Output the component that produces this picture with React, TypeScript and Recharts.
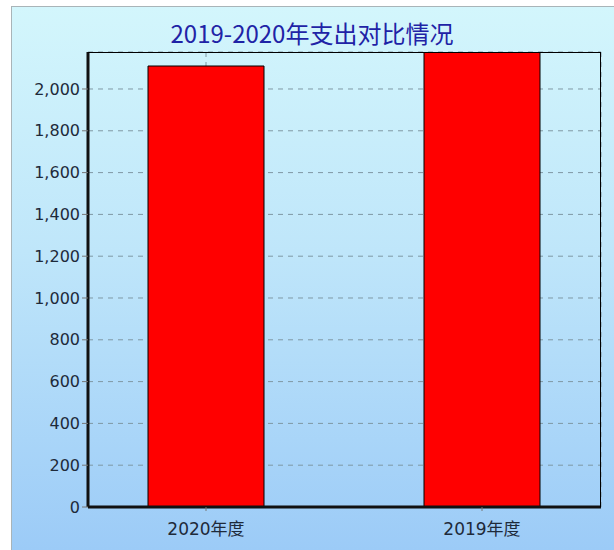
import { Bar, BarChart, CartesianGrid, XAxis, YAxis } from 'recharts';

// 支出（单位未标注）
const categories = ['2020年度', '2019年度'];
const spending = [2110, 2240];
const yTicks = [0, 200, 400, 600, 800, 1000, 1200, 1400, 1600, 1800, 2000];
const yMax = 2177;

const data = categories.map((name, i) => ({ name, value: spending[i] }));

const labelFont = '"DejaVu Sans", "Noto Sans CJK SC", sans-serif';

export default function App() {
  return (
    <div
      style={{
        position: 'absolute',
        left: 0,
        top: 0,
        width: 614,
        height: 550,
        background: '#ffffff',
        overflow: 'hidden',
      }}
    >
      <div
        style={{
          position: 'absolute',
          left: 11,
          top: 6,
          width: 603,
          height: 544,
          boxSizing: 'border-box',
          borderLeft: '1px solid #a9b4b8',
          borderTop: '1px solid #a9b4b8',
          background: 'linear-gradient(to bottom, #d3f6fc 0%, #bfe6fa 45%, #9ccbf7 100%)',
        }}
      >
        <div
          style={{
            position: 'absolute',
            left: 0,
            top: 11,
            width: 600,
            textAlign: 'center',
            fontFamily: '"Noto Sans CJK SC", sans-serif',
            fontSize: 24,
            lineHeight: '30px',
            color: '#1f23a6',
          }}
        >
          2019-2020年支出对比情况
        </div>
        <BarChart
          width={602}
          height={543}
          data={data}
          margin={{ top: 45, right: 13, bottom: 0, left: 0 }}
        >
          <CartesianGrid stroke='#7f98a4' strokeDasharray='5 5' />
          <XAxis
            dataKey='name'
            scale='point'
            padding={{ left: 118, right: 119 }}
            height={43}
            axisLine={{ stroke: '#111', strokeWidth: 3 }}
            tickLine={{ stroke: '#777' }}
            tickSize={4}
            tick={{ fill: '#1e2a3a', fontSize: 17, fontFamily: labelFont }}
            tickMargin={12}
          />
          <YAxis
            width={76}
            domain={[0, yMax]}
            ticks={yTicks}
            allowDataOverflow
            axisLine={{ stroke: '#111', strokeWidth: 3 }}
            tickLine={{ stroke: '#777' }}
            tickSize={6}
            tickMargin={2}
            tickFormatter={(v) => v.toLocaleString('en-US')}
            tick={{ fill: '#1e2a3a', fontSize: 16, fontFamily: labelFont }}
          />
          <Bar
            dataKey='value'
            fill='#ff0000'
            stroke='#000'
            strokeWidth={1}
            barSize={116}
            isAnimationActive={false}
          />
        </BarChart>
        {/* top and right edges of the plot frame */}
        <div
          style={{
            position: 'absolute',
            left: 76,
            top: 45,
            width: 513,
            height: 455,
            boxSizing: 'border-box',
            borderTop: '1px solid #000',
            borderRight: '1px solid #000',
            pointerEvents: 'none',
          }}
        />
      </div>
    </div>
  );
}
